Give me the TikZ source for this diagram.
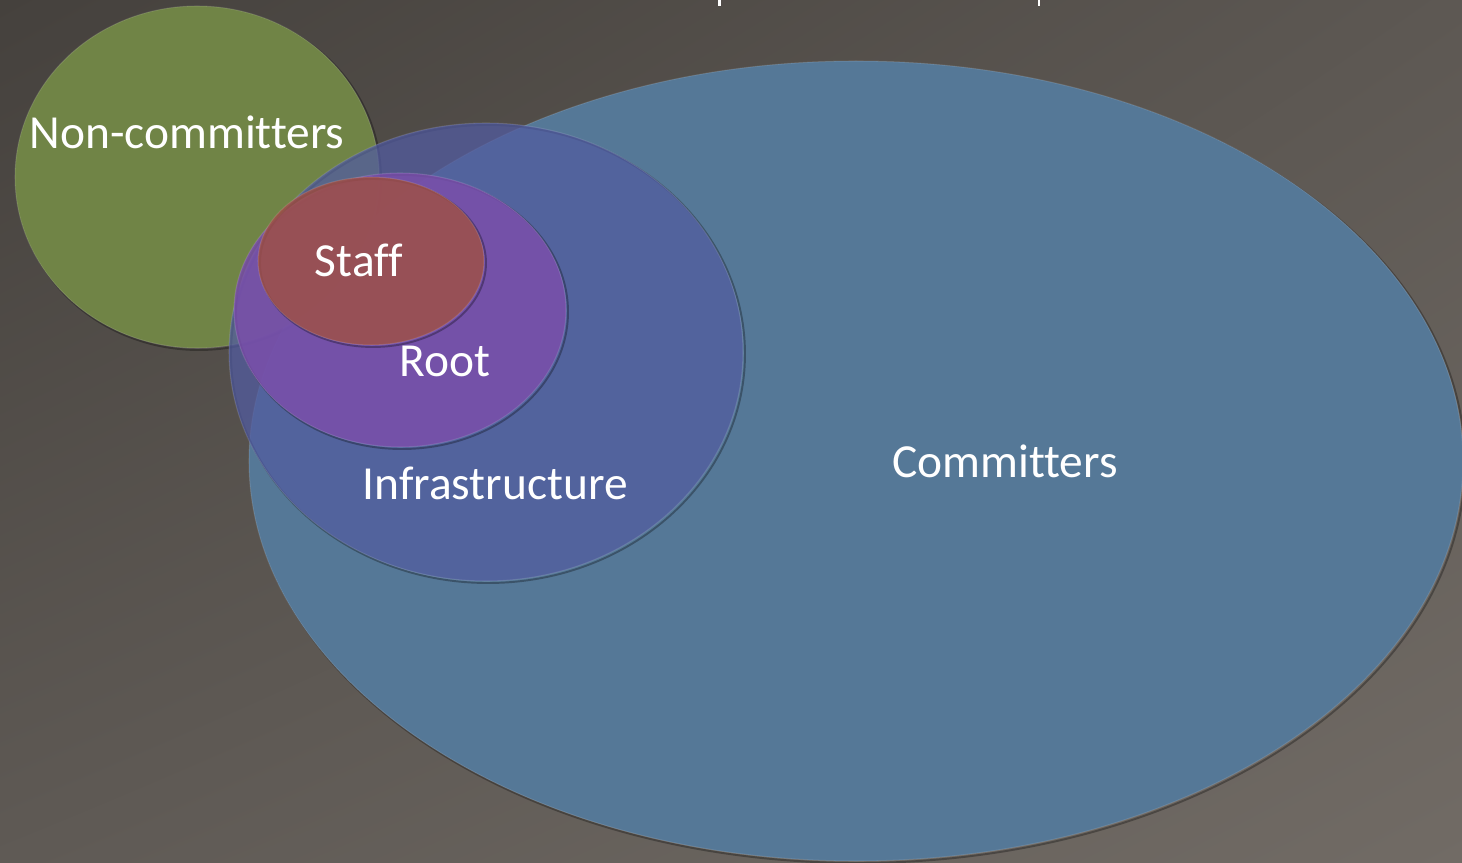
\documentclass[tikz,border=0pt]{standalone}
\usepackage{fontspec}
\setmainfont{Carlito}[Ligatures=NoCommon]
\usepackage{tikz}
\usetikzlibrary{shadings}

\definecolor{bgul}{HTML}{45413D}
\definecolor{bgur}{HTML}{5D5853}
\definecolor{bgll}{HTML}{5F5A55}
\definecolor{bglr}{HTML}{716B65}
\definecolor{commitblue}{HTML}{557897}
\definecolor{noncommitgreen}{HTML}{708446}
\definecolor{infrablue}{HTML}{525CA0}
\definecolor{rootpurple}{HTML}{7A4FAB}
\definecolor{staffred}{HTML}{9E5048}

\begin{document}
\begin{tikzpicture}[scale=0.2]
\tikzstyle{every node}+=[inner sep=0pt]
\tikzstyle{setshadow}=[black, opacity=0.3, line width=1.1pt]
\tikzstyle{setrim}=[draw=white, draw opacity=0.12, line width=0.6pt]
\tikzstyle{setlabel}=[text=white, font=\fontsize{27}{31}\selectfont, anchor=base]
\useasboundingbox (0,0) rectangle (146.2,-86.3);
\clip (0,0) rectangle (146.2,-86.3);
\shade [upper left=bgul, upper right=bgur, lower left=bgll, lower right=bglr] (0,0) rectangle (146.2,-86.3);
\fill [white] (71.8,0) rectangle (72.05,-0.6);
\fill [white] (103.75,0) rectangle (104.0,-0.6);
\draw [setshadow] (85.8,-46.3) ellipse (60.7 and 40.0);
\draw [setrim, fill=commitblue] (85.6,-46.1) ellipse (60.7 and 40.0);
\draw [setshadow] (19.9,-17.9) ellipse (18.2 and 17.1);
\draw [setrim, fill=noncommitgreen] (19.7,-17.7) ellipse (18.2 and 17.1);
\draw [setshadow] (48.8,-35.4) ellipse (25.7 and 22.9);
\draw [setrim, fill=infrablue, fill opacity=0.75] (48.6,-35.2) ellipse (25.7 and 22.9);
\draw [setshadow] (40.2,-31.2) ellipse (16.6 and 13.7);
\draw [setrim, fill=rootpurple, fill opacity=0.85] (40.0,-31.0) ellipse (16.6 and 13.7);
\draw [setshadow] (37.3,-26.3) ellipse (11.3 and 8.4);
\draw [setrim, fill=staffred, fill opacity=0.85] (37.1,-26.1) ellipse (11.3 and 8.4);
\node [setlabel] (noncommitters) at (18.7,-14.9) {Non-committers};
\node [setlabel] (staff) at (35.9,-27.7) {Staff};
\node [setlabel] (root) at (44.5,-37.6) {Root};
\node [setlabel] (infrastructure) at (49.5,-49.9) {Infrastructure};
\node [setlabel] (committers) at (100.5,-47.7) {Committers};
\end{tikzpicture}
\end{document}
